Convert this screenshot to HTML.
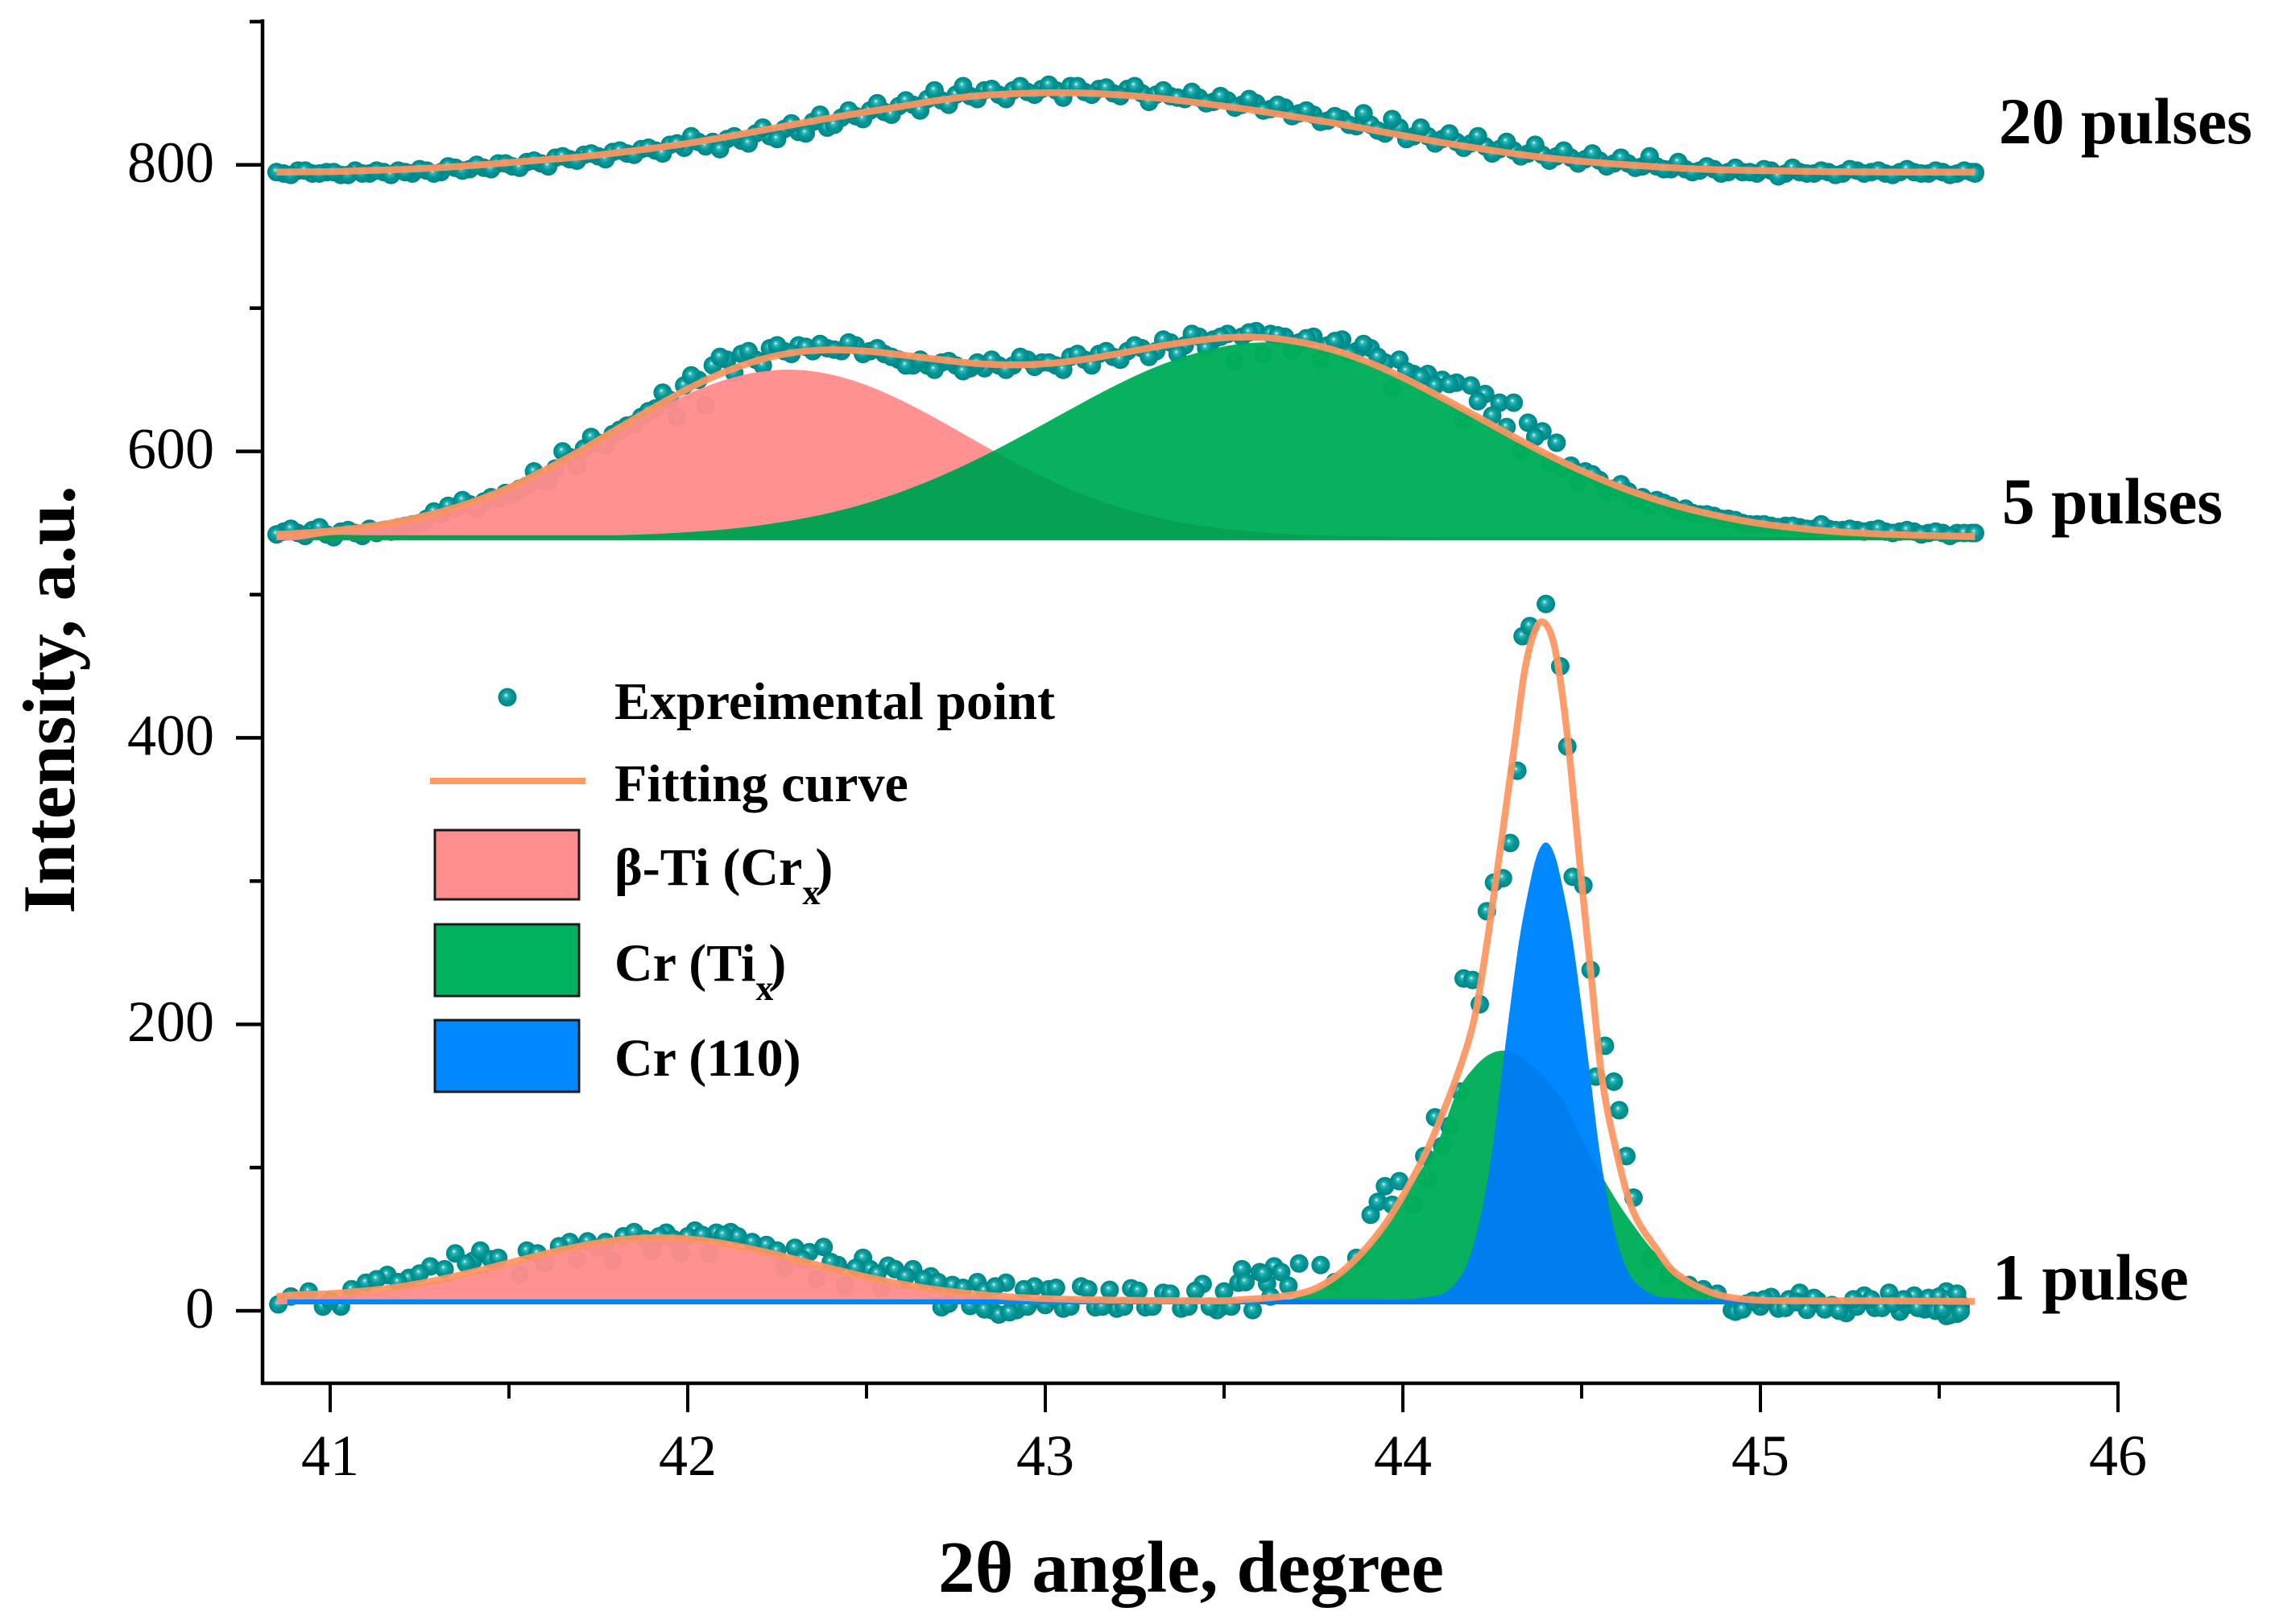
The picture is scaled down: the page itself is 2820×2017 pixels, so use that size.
<!DOCTYPE html>
<html lang="en">
<head>
<meta charset="utf-8">
<title>XRD intensity vs 2θ angle</title>
<style>
html,body{margin:0;padding:0;background:#fff;}
svg{display:block;}
text{font-family:"Liberation Serif","DejaVu Serif",serif;fill:#000;}
.b{font-weight:bold;}
</style>
</head>
<body>
<svg id="chart" xmlns="http://www.w3.org/2000/svg" width="2820" height="2017" viewBox="0 0 2820 2017">
  <defs>
    <radialGradient id="dotGrad" cx="0.5" cy="0.5" r="0.55" fx="0.42" fy="0.38">
      <stop offset="0" stop-color="#e4ffff"/>
      <stop offset="0.18" stop-color="#3ab8b8"/>
      <stop offset="0.5" stop-color="#009999"/>
      <stop offset="1" stop-color="#007f80"/>
    </radialGradient>
  </defs>
  <rect x="0" y="0" width="2820" height="2017" fill="#fff"/>
  <g id="points"></g>
  <g id="fills"></g>
  <g id="fits"></g>
  <g id="axes"></g>

  <text class="b" font-size="92" text-anchor="middle" transform="translate(92 869) rotate(-90)">Intensity, a.u.</text>
  <text class="b" font-size="91.5" x="1165" y="1977">2θ angle, degree</text>

  <text class="b" font-size="81.5" x="2482" y="178">20 pulses</text>
  <text class="b" font-size="81.5" x="2486" y="650">5 pulses</text>
  <text class="b" font-size="82" x="2474" y="1614">1 pulse</text>

  <g>
    <circle cx="630" cy="866" r="11.5" fill="url(#dotGrad)"/>
    <text class="b" font-size="66" x="763" y="893">Expreimental point</text>
    <line x1="534" y1="970" x2="727" y2="970" stroke="#FF9A63" stroke-width="8"/>
    <text class="b" font-size="66" x="763" y="995">Fitting curve</text>
    <rect x="540" y="1031" width="179" height="86" fill="#FF8F8F" stroke="#1a1a1a" stroke-width="3"/>
    <text class="b" font-size="66" x="763" y="1099">β-Ti (Cr<tspan font-size="44" dy="24">x</tspan><tspan dy="-24" dx="-6">)</tspan></text>
    <rect x="540" y="1148" width="179" height="89" fill="#00B25D" stroke="#1a1a1a" stroke-width="3"/>
    <text class="b" font-size="66" x="763" y="1218">Cr (Ti<tspan font-size="44" dy="24">x</tspan><tspan dy="-24" dx="-6">)</tspan></text>
    <rect x="540" y="1267" width="179" height="89" fill="#0088FF" stroke="#1a1a1a" stroke-width="3"/>
    <text class="b" font-size="66" x="763" y="1336">Cr (110)</text>
  </g>
</svg>

<script>
// ---- axis ticks ----
const xMajorTicks = [41, 42, 43, 44, 45, 46];
const xMinorTicks = [41.5, 42.5, 43.5, 44.5, 45.5];
const yMajorTicks = [0, 200, 400, 600, 800];
const yMinorTicks = [100, 300, 500, 700, 900];

// ---- experimental points: shared scan angles for 20 and 5 pulses ----
const scanAngles = [
  40.85,40.89,40.93,40.97,41.01,41.05,41.09,41.13,41.17,41.21,
  41.25,41.29,41.33,41.37,41.41,41.45,41.49,41.53,41.57,41.61,
  41.65,41.69,41.73,41.77,41.81,41.85,41.89,41.93,41.97,42.01,
  42.05,42.09,42.13,42.17,42.21,42.25,42.29,42.33,42.37,42.41,
  42.45,42.49,42.53,42.57,42.61,42.65,42.69,42.73,42.77,42.81,
  42.85,42.89,42.93,42.97,43.01,43.05,43.09,43.13,43.17,43.21,
  43.25,43.29,43.33,43.37,43.41,43.45,43.49,43.53,43.57,43.61,
  43.65,43.69,43.73,43.77,43.81,43.85,43.89,43.93,43.97,44.01,
  44.05,44.09,44.13,44.17,44.21,44.25,44.29,44.33,44.37,44.41,
  44.45,44.49,44.53,44.57,44.61,44.65,44.69,44.73,44.77,44.81,
  44.85,44.89,44.93,44.97,45.01,45.05,45.09,45.13,45.17,45.21,
  45.25,45.29,45.33,45.37,45.41,45.45,45.49,45.53,45.57,45.6
];
const scanAnglesB = [
  40.87,40.91,40.95,40.99,41.03,41.07,41.11,41.15,41.19,41.23,
  41.27,41.31,41.35,41.39,41.43,41.47,41.51,41.55,41.59,41.63,
  41.67,41.71,41.75,41.79,41.83,41.87,41.91,41.95,41.99,42.03,
  42.07,42.11,42.15,42.19,42.23,42.27,42.31,42.35,42.39,42.43,
  42.47,42.51,42.55,42.59,42.63,42.67,42.71,42.75,42.79,42.83,
  42.87,42.91,42.95,42.99,43.03,43.07,43.11,43.15,43.19,43.23,
  43.27,43.31,43.35,43.39,43.43,43.47,43.51,43.55,43.59,43.63,
  43.67,43.71,43.75,43.79,43.83,43.87,43.91,43.95,43.99,44.03,
  44.07,44.11,44.15,44.19,44.23,44.27,44.31,44.35,44.39,44.43,
  44.47,44.51,44.55,44.59,44.63,44.67,44.71,44.75,44.79,44.83,
  44.87,44.91,44.95,44.99,45.03,45.07,45.11,45.15,45.19,45.23,
  45.27,45.31,45.35,45.39,45.43,45.47,45.51,45.55,45.59,45.6
];
const points20 = [
  795,793,796,794,795,793,794,796,793,795,
  797,794,799,796,800,797,801,798,803,799,
  806,803,808,804,810,807,812,808,815,820,
  813,811,820,815,826,818,829,822,835,828,
  838,832,843,835,845,838,852,842,855,846,
  853,846,855,849,856,847,855,849,854,848,
  855,844,852,847,851,843,848,840,846,838,
  842,834,838,830,834,828,836,824,832,818,
  826,815,822,812,820,808,816,806,814,803,
  810,801,808,799,805,798,806,797,802,795,
  799,794,798,795,797,792,798,794,796,793,
  797,794,796,793,797,794,796,793,796,794
];
const points20B = [
  794,796,794,795,793,796,794,795,796,794,
  796,795,798,797,798,801,799,802,801,805,
  804,807,806,809,808,811,810,814,812,816,
  816,818,817,822,820,825,823,830,826,833,
  834,838,837,841,842,846,845,849,848,852,
  849,852,851,853,852,855,851,853,850,853,
  850,849,848,846,847,844,845,842,843,839,
  840,836,835,831,832,827,828,822,826,820,
  820,818,816,815,813,811,810,808,807,806,
  805,804,803,801,801,799,799,797,797,796,
  797,795,795,794,796,794,795,794,795,794,
  796,795,794,795,795,794,795,794,795,795
];
const points5 = [
  542,546,541,547,540,545,541,543,544,548,
  550,558,562,566,560,568,571,574,586,579,
  600,590,610,604,615,619,628,641,624,653,
  632,666,655,670,660,674,668,673,675,671,
  676,668,672,666,660,664,657,663,656,662,
  664,657,666,659,662,657,668,660,670,664,
  674,666,678,668,682,672,680,663,683,668,
  681,670,679,664,677,668,675,666,644,656,
  652,646,647,622,635,625,617,600,610,592,
  588,578,584,571,577,566,562,564,558,557,
  556,553,552,549,549,547,548,546,549,545,
  546,544,546,543,545,542,544,541,543,543
];
const points5B = [
  544,543,545,542,544,543,546,545,547,549,
  553,556,560,563,565,567,570,576,580,588,
  596,602,606,612,618,624,630,636,646,650,
  660,664,668,664,672,670,674,670,672,670,
  674,670,668,664,660,660,662,660,658,658,
  660,660,664,662,660,666,664,668,666,670,
  672,670,676,674,680,678,682,680,684,682,
  680,676,680,674,678,670,672,662,664,654,
  654,650,648,646,640,634,634,620,614,606,
  590,586,580,574,572,568,566,562,560,556,
  555,553,550,549,548,548,547,546,546,545,
  545,545,544,544,544,543,543,543,543,543
];
const points1Angles = [
  40.855,40.89,40.94,40.98,41.03,41.0,41.1,41.16,41.22,41.28,
  41.32,41.35,41.4,41.42,41.45,41.53,41.55,41.6,41.67,41.72,
  41.69,41.79,41.82,41.85,41.9,41.94,41.98,42.02,42.08,42.12,
  42.06,42.14,42.22,42.27,42.3,42.34,42.38,42.36,42.42,42.49,
  42.44,42.51,42.56,42.54,42.63,42.68,42.71,42.74,42.79,42.81,
  42.85,42.87,42.89,42.92,42.97,43.01,43.05,43.1,43.14,43.18,
  43.2,43.24,43.28,43.33,43.38,43.44,43.49,43.5,43.48,43.54,
  43.55,43.58,43.6,43.62,43.64,43.66,43.68,43.71,43.77,43.87,
  43.81,43.91,43.93,43.95,43.97,43.99,44.03,44.06,44.07,44.09,
  44.11,44.13,44.16,44.17,44.195,44.215,44.235,44.255,44.28,44.3,
  44.32,44.335,44.355,44.4,44.44,44.46,44.475,44.505,44.525,44.54,
  44.565,44.59,44.605,44.625,44.645,44.74,44.69,44.8,44.84,44.88,
  44.92,44.93,44.96,45,45.03,45.05,45.08,45.11,45.13,45.16,
  45.2,45.24,45.27,45.29,45.32,45.36,45.39,45.41,45.43,45.46,
  45.48,45.52,45.52,45.54,45.56,45.55,45.55,45.56,45.53,45.56,
  42.73,42.83,42.9,42.95,43,43.03,43.07,43.12,43.16,43.22,
  43.26,43.3,43.35,43.4,43.42,43.46,43.52,43.56,43.61,43.63,
  44.95,44.98,45.01,45.07,45.1,45.15,45.18,45.22,45.26,45.31,
  45.34,45.37,45.4,45.44,45.47,45.49,45.5,45.51,45.53,45.55,
  41.06,41.13,41.19,41.25,41.38,41.47,41.58,41.64,41.75,41.77,
  41.88,41.92,41.96,42,42.04,42.1,42.18,42.25,42.32,42.4,
  42.47,42.53,42.58,42.61,42.66,42.7,42.77,42.83,42.86,42.94
];
const points1 = [
  4.5,10,13.5,3,3,7,19.6,25,23,31,
  29,40,35,42,36,25,42,33,48,48.5,
  36,35,52,55,42,54.5,40,56,54.5,55,
  40,52,46,30,44,41,44.5,22,32,37,
  18,29,31.5,16,29,24,2.5,18,3.4,20,
  0.5,-2.6,19.6,0.5,17,15,1.6,17,2.5,14.6,
  1.6,15.7,2.5,12.6,1.6,18.7,2.5,13.5,0.5,19.6,
  29,0.5,27,19,31,27,17.5,33,32,37,
  20,67,76,87,74,90.5,74,108,92,135,
  115,129,153,232,231,214,279,299,302,326.6,
  377,471,478,493.5,450,394,303,297,238,163.5,
  185,160,140,108,79,25,36,18,15,12,
  0.5,-0.6,5,3,9.6,1.6,8,12.6,0.6,7,
  4,-1.6,3,10.6,2,12.6,-0.6,4,10.6,1,
  6,13.5,-3.6,1,4.5,-2,8,3,-3,-0.5,
  5,1,-1,3,4,16,3,15,3,3,
  14,3,12,3,14,3,3,20,26,10,
  1,7,8,2,6,9,1,0,8,8,
  2,5,8,2,9,0,10,1,8,12,
  15,22,20,26,33,37,40,45,44,48,
  50,52,50,52,53,53,48,42,36,34,
  30,26,29,24,22,20,16,14,17,15
];

// ---- fitted curves and peak components: 20 and 5 pulses ----
const fitAngles = [
  40.85,40.9,41,41.1,41.2,41.3,41.4,41.5,41.6,41.7,
  41.8,41.9,42,42.1,42.2,42.3,42.4,42.5,42.6,42.7,
  42.8,42.9,43,43.1,43.2,43.3,43.4,43.5,43.6,43.7,
  43.8,43.9,44,44.1,44.2,44.3,44.4,44.5,44.6,44.7,
  44.8,44.9,45,45.1,45.2,45.3,45.4,45.5,45.6
];
const fit20 = [
  795,795.1,795.3,796,796.8,798,799.6,801.6,803.6,805.6,
  808.4,811.5,815,819.2,823.8,828.4,832.8,837,841,845,
  848,849.6,850.3,850.2,849,847,844.2,841,837.5,833.5,
  829.5,825,820.5,816,812,808.2,805,802.5,800.5,798.8,
  797.4,796.5,796,795.6,795.3,795.1,795,795,795
];
const fit5 = [
  542,542.6,544.4,547.3,551.4,557.2,564.8,574.6,586.9,600.5,
  615.2,629.8,643.6,655.1,663.8,669.1,670.9,670,667.3,664.2,
  661.5,660.4,661.2,663.9,668,672.6,676.5,679.3,679.6,676.8,
  671.2,662.6,651.6,638.7,625.3,611.5,598.4,586.4,575.8,566.9,
  559.7,554,549.6,546.5,544.2,542.7,541.7,541,540.6
];
const betaTi5 = [
  542,542.6,544.4,547.3,551.4,557.2,564.8,574.6,586.4,599.7,
  613.8,627.6,640,649.6,655.5,657,653.7,646.2,635.3,622.2,
  608.1,594.2,581.5,570.5,561.5,554.6,549.5,546,543.6,542,
  541.2,540.6,540.3,540,540,540,540,540,540,540,
  540,540,540,540,540,540,540,540,540
];
const crTi5 = [
  538,538,541.5,541.5,541.5,541.5,541.5,541.5,541.5,541.5,
  541.5,542.2,543.6,545.5,548.3,552.1,557.2,563.8,572,582,
  593.4,606.2,619.7,633.4,646.5,658,667,673.3,676,674.8,
  670,662,651.3,638.7,625.3,611.5,598.4,586.4,575.8,566.9,
  559.7,554,549.6,546.5,544.2,542.7,541.7,541,538
];

// ---- fitted curve and peak components: 1 pulse ----
const fit1Angles = [
  40.85,40.9,41,41.1,41.2,41.3,41.4,41.5,41.6,41.7,
  41.8,41.9,42,42.1,42.2,42.3,42.4,42.5,42.6,42.7,
  42.8,42.9,43,43.1,43.2,43.3,43.4,43.5,43.56,43.66,
  43.76,43.86,43.96,44.06,44.11,44.16,44.2,44.23,44.26,44.28,
  44.315,44.34,44.365,44.39,44.42,44.445,44.47,44.5,44.525,44.555,
  44.59,44.64,44.71,44.76,44.86,44.96,45.1,45.3,45.6
];
const fit1 = [
  10,11,12,14,17,21.5,27.2,33.4,39.7,45.2,
  49.2,51,50.2,47,42,36,29.6,23.6,18.6,14.6,
  11.7,9.7,8.5,7.8,7.4,7.2,7,7,8,10,
  16,34,64,108,137,170,204,248,300,336,
  400,446,472,481,468,432,378,299,238,166,
  119,72,43,27,13,8,7,7,6.5
];
const betaTi1Angles = [
  40.85,40.9,41,41.1,41.2,41.3,41.4,41.5,41.6,41.7,
  41.8,41.9,42,42.1,42.2,42.3,42.4,42.5,42.6,42.7,
  42.8,42.9,43,43.1,43.2,43.3,43.4,43.5
];
const betaTi1 = [
  8,9,10,12.5,16,21,26.5,32.5,39,44.5,
  48.5,50,49.5,46.5,41.5,35.5,29,23,18,14,
  11,9,8,7.5,7,7,7,7
];
const crTi1Angles = [
  43.6,43.65,43.7,43.75,43.8,43.85,43.9,43.95,44,44.05,
  44.1,44.15,44.2,44.25,44.3,44.35,44.4,44.45,44.5,44.55,
  44.6,44.65,44.7,44.75,44.8,44.85,44.9,44.95,45
];
const crTi1 = [
  6.5,7,9,14,21,31,43,60,79,98,
  119,152,170,180,181,174,162,146,120,97,
  76,58,42,29,20,13,9,7,6
];
const cr110Angles = [
  40.88,43.9,44,44.05,44.1,44.125,44.15,44.175,44.2,44.225,
  44.25,44.275,44.3,44.325,44.35,44.375,44.4,44.425,44.45,44.475,
  44.5,44.525,44.55,44.575,44.6,44.625,44.65,44.7,44.75,44.8,
  44.9,45.02
];
const cr110 = [
  8,8,8,9,11,14,20,30,48,75,
  112,162,212,258,292,318,327,318,292,258,
  212,162,112,75,48,30,20,11,9,8,
  8,8
];
const baseline5 = 538;
const baseline1 = 4.5;

// ---- axis functions ----
function xScale(v) { return 410 + (v - 41) * 444; }
function yScale(v) { return 1628 - v * 1.779; }

const NS = 'http://www.w3.org/2000/svg';
function make(tag, parent, attrs) {
  const e = document.createElementNS(NS, tag);
  for (const k in attrs) e.setAttribute(k, attrs[k]);
  parent.appendChild(e);
  return e;
}
// smooth curve through the data, x-monotonic Hermite segments
function curveSegments(xs, ys) {
  const px = xs.map(xScale), py = ys.map(yScale);
  const n = px.length;
  const slope = [];
  for (let i = 0; i < n; i++) {
    const a = Math.max(0, i - 1), b = Math.min(n - 1, i + 1);
    slope.push((py[b] - py[a]) / (px[b] - px[a]));
  }
  let d = '';
  for (let i = 0; i < n - 1; i++) {
    const dx = (px[i + 1] - px[i]) / 3;
    d += ' C' + (px[i] + dx).toFixed(1) + ' ' + (py[i] + slope[i] * dx).toFixed(1) + ' ' +
      (px[i + 1] - dx).toFixed(1) + ' ' + (py[i + 1] - slope[i + 1] * dx).toFixed(1) + ' ' +
      px[i + 1].toFixed(1) + ' ' + py[i + 1].toFixed(1);
  }
  return d;
}
function linePath(xs, ys) {
  return 'M' + xScale(xs[0]).toFixed(1) + ' ' + yScale(ys[0]).toFixed(1) + curveSegments(xs, ys);
}
function areaPath(xs, ys, base) {
  return 'M' + xScale(xs[0]).toFixed(1) + ' ' + yScale(base).toFixed(1) +
    ' L' + xScale(xs[0]).toFixed(1) + ' ' + yScale(ys[0]).toFixed(1) +
    curveSegments(xs, ys) +
    ' L' + xScale(xs[xs.length - 1]).toFixed(1) + ' ' + yScale(base).toFixed(1) + ' Z';
}

const gPoints = document.getElementById('points');
const gFills = document.getElementById('fills');
const gFits = document.getElementById('fits');
const gAxes = document.getElementById('axes');
const svgDefs = document.querySelector('#chart defs');

// ---- points ----
function drawPoints(xs, ys, seriesName) {
  xs.forEach((x, i) => {
    const c = make('circle', gPoints, {cx: xScale(x).toFixed(1), cy: yScale(ys[i]).toFixed(1), r: 11.5, fill: 'url(#dotGrad)'});
    
    
  });
}
drawPoints(scanAnglesB, points20B, 'point-20-pulses');
drawPoints(scanAngles, points20, 'point-20-pulses');
drawPoints(scanAnglesB, points5B, 'point-5-pulses');
drawPoints(scanAngles, points5, 'point-5-pulses');
drawPoints(points1Angles, points1, 'point-1-pulse');

// ---- fills ----
function drawArea(xs, ys, base, color, opacity, seriesName) {
  const p = make('path', gFills, {d: areaPath(xs, ys, base), fill: color, 'fill-opacity': opacity});
  
  
}
function drawOverlap(xsA, ysA, xsB, ysB, base, clipId, overlapName) {
  const cp = make('clipPath', svgDefs, {id: clipId});
  make('path', cp, {d: areaPath(xsB, ysB, base)});
  const p = make('path', gFills, {d: areaPath(xsA, ysA, base), fill: '#000', 'fill-opacity': 0.07, 'clip-path': 'url(#' + clipId + ')'});
  
  
}
drawArea(fitAngles, betaTi5, baseline5, '#FF8C8C', 0.96, 'area-beta-ti-5-pulses');
drawArea(fitAngles, crTi5, baseline5, '#00AE58', 0.97, 'area-cr-ti-5-pulses');
drawOverlap(fitAngles, betaTi5, fitAngles, crTi5, baseline5, 'clipGreen5', 'overlap-5-pulses');
drawArea(betaTi1Angles, betaTi1, baseline1, '#FF8C8C', 0.96, 'area-beta-ti-1-pulse');
drawArea(crTi1Angles, crTi1, baseline1, '#00AE58', 0.97, 'area-cr-ti-1-pulse');
drawArea(cr110Angles, cr110, baseline1, '#0088FF', 1, 'area-cr-110-1-pulse');
drawOverlap(crTi1Angles, crTi1, cr110Angles, cr110, baseline1, 'clipBlue1', 'overlap-1-pulse');

// ---- fit lines ----
function drawFit(xs, ys, seriesName) {
  const p = make('path', gFits, {d: linePath(xs, ys), fill: 'none', stroke: '#FF9460', 'stroke-width': 8.5, 'stroke-opacity': 0.92, 'stroke-linejoin': 'round'});
  
  
}
drawFit(fitAngles, fit20, 'fit-20-pulses');
drawFit(fitAngles, fit5, 'fit-5-pulses');
drawFit(fit1Angles, fit1, 'fit-1-pulse');

// ---- axes ----
const axisLeft = 326, axisBottom = 1718, axisTop = 26, axisRight = 2630;
const yAxisLine = make('line', gAxes, {x1: axisLeft, y1: axisTop - 2, x2: axisLeft, y2: axisBottom + 2, stroke: '#000', 'stroke-width': 4.5});


const xAxisLine = make('line', gAxes, {x1: axisLeft - 2, y1: axisBottom, x2: axisRight + 2, y2: axisBottom, stroke: '#000', 'stroke-width': 4.5});



xMajorTicks.forEach(v => {
  const t = make('line', gAxes, {x1: xScale(v), y1: axisBottom, x2: xScale(v), y2: 1754, stroke: '#000', 'stroke-width': 4});
  
  
  const l = make('text', gAxes, {x: xScale(v), y: 1832, 'font-size': 72, 'text-anchor': 'middle'});
  l.textContent = v;
  
  
});
xMinorTicks.forEach(v => {
  const t = make('line', gAxes, {x1: xScale(v), y1: axisBottom, x2: xScale(v), y2: 1737, stroke: '#000', 'stroke-width': 4});
  
  
});
yMajorTicks.forEach(v => {
  const t = make('line', gAxes, {x1: 293, y1: yScale(v), x2: axisLeft, y2: yScale(v), stroke: '#000', 'stroke-width': 4.5});
  
  
  const l = make('text', gAxes, {x: 266, y: yScale(v) + 21, 'font-size': 72, 'text-anchor': 'end'});
  l.textContent = v;
  
  
});
yMinorTicks.forEach(v => {
  const t = make('line', gAxes, {x1: 310, y1: yScale(v), x2: axisLeft, y2: yScale(v), stroke: '#000', 'stroke-width': 4.5});
  
  
});
</script>
</body>
</html>
